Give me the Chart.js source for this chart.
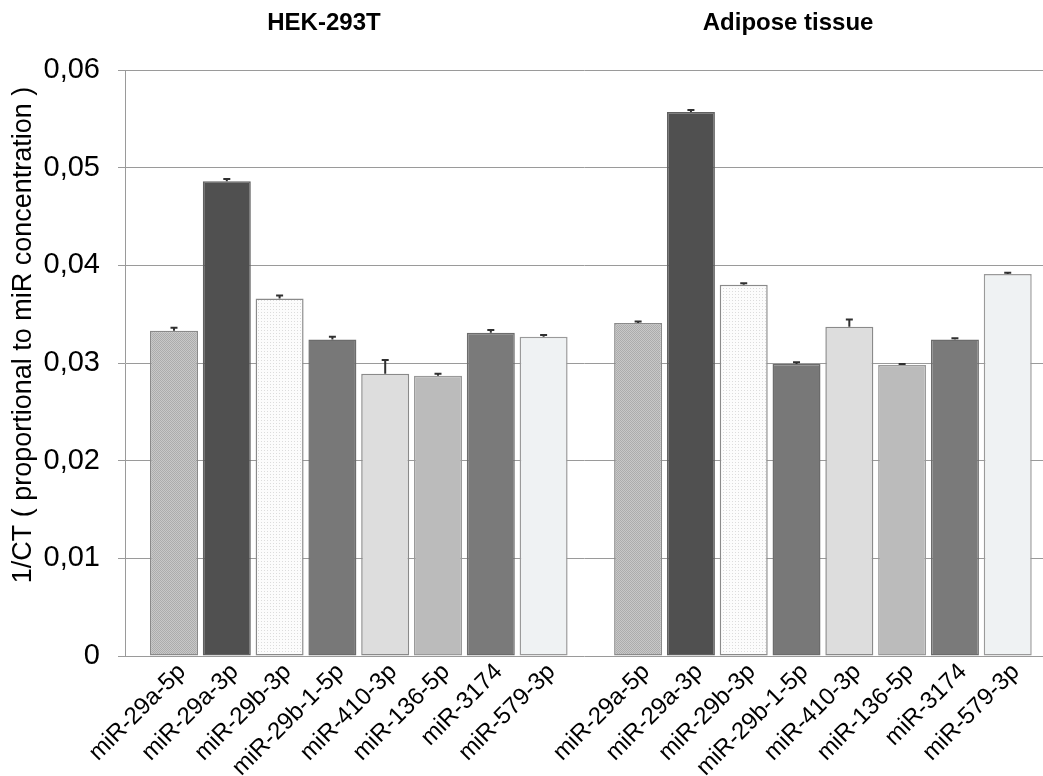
<!DOCTYPE html>
<html><head><meta charset="utf-8">
<script src="https://cdn.jsdelivr.net/npm/chart.js@4.4.1/dist/chart.umd.min.js"></script>
<style>html,body{margin:0;padding:0;background:#fff;}</style>
</head><body>
<canvas id="c" width="1043" height="776"></canvas>
<script>
// ---- data ----
const categories = ['miR-29a-5p','miR-29a-3p','miR-29b-3p','miR-29b-1-5p','miR-410-3p','miR-136-5p','miR-3174','miR-579-3p'];
const groupTitles = ['HEK-293T','Adipose tissue'];
const hekValues = [0.0333,0.0486,0.0366,0.0324,0.0289,0.0287,0.0331,0.0327];
const hekErrors = [0.0003,0.00024,0.0003,0.0003,0.0014,0.0002,0.00027,0.00017];
const adiposeValues = [0.0341,0.0557,0.0380,0.0299,0.0337,0.0298,0.0324,0.0391];
const adiposeErrors = [0.00014,0.0002,0.00017,0.00017,0.00075,0.0001,0.00014,0.00014];
const yTickLabels = ['0','0,01','0,02','0,03','0,04','0,05','0,06'];
const yTitle = '1/CT ( proportional to miR concentration )';

// ---- layout constants ----
const GROUP_STARTS = [0, 8.79];
const X_MIN = -0.928, X_MAX = 16.458;
const TITLE_SHIFT = -0.66;
const FONT = '"Liberation Sans", Arial, sans-serif';

function pattern(bg, fg, step, mode) {
  const c = document.createElement('canvas');
  c.width = step; c.height = step;
  const g = c.getContext('2d');
  g.fillStyle = bg; g.fillRect(0,0,step,step);
  g.fillStyle = fg;
  if (mode === 'checker') { g.fillRect(0,0,1,1); g.fillRect(1,1,1,1); }
  else { g.fillRect(0,0,1,1); }
  return document.getElementById('c').getContext('2d').createPattern(c, 'repeat');
}
const fills = [
  pattern('#c8c8c8', '#acacac', 2, 'checker'),
  '#505050',
  pattern('#fcfcfc', '#dcdcdc', 3, 'dot'),
  '#787878', '#dddddd', '#bbbbbb', '#7a7a7a', '#eff2f3'
];
const borders = ['#8a8a8a','#606060','#8a8a8a','#6c6c6c','#8a8a8a','#9a9a9a','#6c6c6c','#9a9a9a'];

const seriesValues = [hekValues, adiposeValues];
const seriesErrors = [hekErrors, adiposeErrors];
const positions = [];
const tickText = [];
GROUP_STARTS.forEach(s => categories.forEach((c,i) => { positions.push(s + i); tickText.push(c); }));

const datasets = seriesValues.map((vals, k) => ({
  label: groupTitles[k],
  data: vals.map((v,i) => ({x: GROUP_STARTS[k] + i, y: v})),
  backgroundColor: fills,
  borderColor: borders,
  borderWidth: 1.5,
  borderSkipped: false,
  grouped: false,
  barPercentage: 0.909,
  categoryPercentage: 1
}));

const errorBars = {
  id: 'errorBars',
  afterDatasetsDraw(chart) {
    const ctx = chart.ctx, y = chart.scales.y;
    ctx.save();
    ctx.strokeStyle = '#303030'; ctx.lineWidth = 2;
    chart.data.datasets.forEach((ds, k) => {
      const meta = chart.getDatasetMeta(k);
      meta.data.forEach((el, i) => {
        const v = seriesValues[k][i], e = seriesErrors[k][i];
        const y0 = y.getPixelForValue(v), y1 = y.getPixelForValue(v + e);
        ctx.beginPath();
        ctx.moveTo(el.x, y0); ctx.lineTo(el.x, y1);
        ctx.moveTo(el.x - 3.5, y1); ctx.lineTo(el.x + 3.5, y1);
        ctx.stroke();
      });
    });
    ctx.restore();
  }
};
const textPlugin = {
  id: 'texts',
  afterDraw(chart) {
    const ctx = chart.ctx, x = chart.scales.x, area = chart.chartArea;
    ctx.save();
    ctx.font = 'bold 24px ' + FONT;
    ctx.fillStyle = '#000';
    ctx.textAlign = 'center'; ctx.textBaseline = 'middle';
    groupTitles.forEach((t, k) => {
      ctx.fillText(t, x.getPixelForValue(GROUP_STARTS[k] + (categories.length - 1) / 2 + TITLE_SHIFT), 23);
    });
    // y axis title
    ctx.font = '27px ' + FONT;
    ctx.translate(24, (area.top + area.bottom) / 2 - 28);
    ctx.rotate(-Math.PI / 2);
    ctx.fillText(yTitle, 0, 0);
    ctx.restore();
  }
};

new Chart(document.getElementById('c'), {
  type: 'bar',
  data: { datasets },
  plugins: [errorBars, textPlugin],
  options: {
    responsive: false,
    animation: false,
    layout: { padding: { top: 70, left: 8, right: 0, bottom: 0 } },
    plugins: { legend: { display: false }, tooltip: { enabled: false } },
    scales: {
      x: {
        type: 'linear', min: X_MIN, max: X_MAX, bounds: 'data', offset: false,
        grid: { display: false, drawTicks: false, offset: false },
        border: { display: false },
        afterBuildTicks: a => { a.ticks = positions.map(v => ({ value: v })); },
        ticks: {
          autoSkip: false, minRotation: 45, maxRotation: 45, padding: 2, labelOffset: 8,
          color: '#000', font: { size: 24, family: FONT },
          callback: (v, i) => tickText[i]
        },
        afterFit: s => { s.height = 120; s.paddingLeft = 0; s.paddingRight = 0; }
      },
      y: {
        min: 0, max: 0.06,
        ticks: {
          stepSize: 0.01, padding: 18, color: '#000', font: { size: 29, family: FONT },
          callback: v => yTickLabels[Math.round(v / 0.01)]
        },
        grid: { color: '#9a9a9a', lineWidth: 1, tickLength: 7, drawTicks: true },
        border: { color: '#9a9a9a', width: 1 },
        title: { display: false, text: yTitle },
        afterFit: s => { s.width = 117; }
      }
    }
  }
});
</script>
</body></html>
